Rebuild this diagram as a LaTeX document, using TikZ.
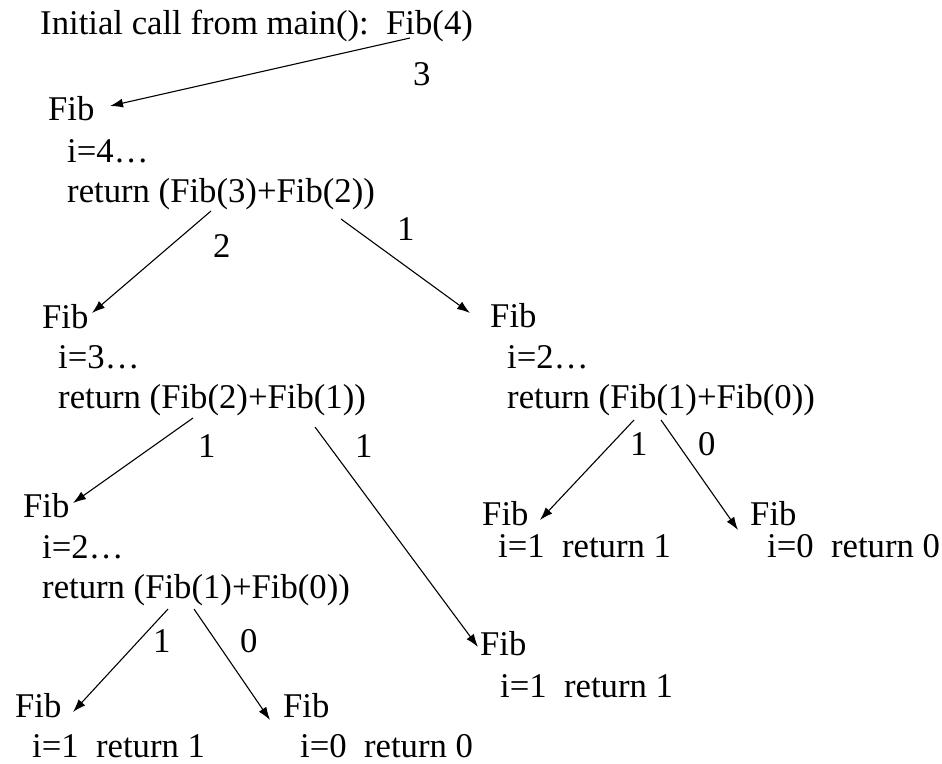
\documentclass[tikz,border=0pt]{standalone}
\usepackage{fontspec}
\setmainfont{Liberation Serif}
\usetikzlibrary{arrows.meta,positioning}

\begin{document}
\begin{tikzpicture}[
  x=1pt,y=-1pt,
  every node/.style={anchor=base west,inner sep=0pt,font=\fontsize{34.7}{40}\selectfont},%
  e/.style={-{Latex[length=13pt,width=9pt]},line width=1.1pt},%
  ]
  \useasboundingbox (0,0) rectangle (942,763);

  % first call
  \node (call) at (40,34) {Initial call from main():\ \ Fib(4)};
  \node (w4) at (413,85) {3};

  \node (fib4) at (48,120) {Fib};
  \node (i4) at (67,162) {i=4…};
  \node (ret4) at (67,202) {return (Fib(3)+Fib(2))};
  \node (w3) at (213,257) {2};
  \node (w2) at (397,240) {1};

  % Fib(3)
  \node (fib3) at (42,328) {Fib};
  \node (i3) at (58,368) {i=3…};
  \node (ret3) at (58,408) {return (Fib(2)+Fib(1))};
  \node (w3a) at (198,457) {1};
  \node (w3b) at (355,457) {1};

  % Fib(2), right
  \node (fib2r) at (490,327) {Fib};
  \node (i2r) at (507,368) {i=2…};
  \node (ret2r) at (507,408) {return (Fib(1)+Fib(0))};
  \node (w2ra) at (630,455) {1};
  \node (w2rb) at (698,455) {0};

  % Fib(2), left
  \node (fib2l) at (23,517) {Fib};
  \node (i2l) at (42,558) {i=2…};
  \node (ret2l) at (42,598) {return (Fib(1)+Fib(0))};
  \node (w2la) at (153,652) {1};
  \node (w2lb) at (240,652) {0};

  % leaves
  \node (fib1a) at (15,717) {Fib};
  \node (i1a) at (32,757) {i=1\ \ return 1};
  \node (fib0a) at (283,717) {Fib};
  \node (i0a) at (300,757) {i=0\ \ return 0};

  \node (fib1b) at (480,655) {Fib};
  \node (i1b) at (500,697) {i=1\ \ return 1};

  \node (fib1c) at (482,525) {Fib};
  \node (i1c) at (498,557) {i=1\ \ return 1};
  \node (fib0c) at (750,525) {Fib};
  \node (i0c) at (767,557) {i=0\ \ return 0};

  % connector ends
  \coordinate (s4) at (410,38);   \coordinate (t4) at (110,106);
  \coordinate (s3) at (211,211);  \coordinate (t3) at (92,313);
  \coordinate (s2) at (341,219);  \coordinate (t2) at (470,313);
  \coordinate (s3a) at (193,418); \coordinate (t3a) at (73,503);
  \coordinate (s3b) at (315,427); \coordinate (t3b) at (478,647);
  \coordinate (sla) at (168,609); \coordinate (tla) at (73,712);
  \coordinate (slb) at (194,609); \coordinate (tlb) at (270,720);
  \coordinate (sra) at (634,420); \coordinate (tra) at (540,520);
  \coordinate (srb) at (661,420); \coordinate (trb) at (738,530);

  \draw [e] (s4) -- (t4);
  \draw [e] (s3) -- (t3);
  \draw [e] (s2) -- (t2);
  \draw [e] (s3a) -- (t3a);
  \draw [e] (s3b) -- (t3b);
  \draw [e] (sla) -- (tla);
  \draw [e] (slb) -- (tlb);
  \draw [e] (sra) -- (tra);
  \draw [e] (srb) -- (trb);
\end{tikzpicture}
\end{document}
